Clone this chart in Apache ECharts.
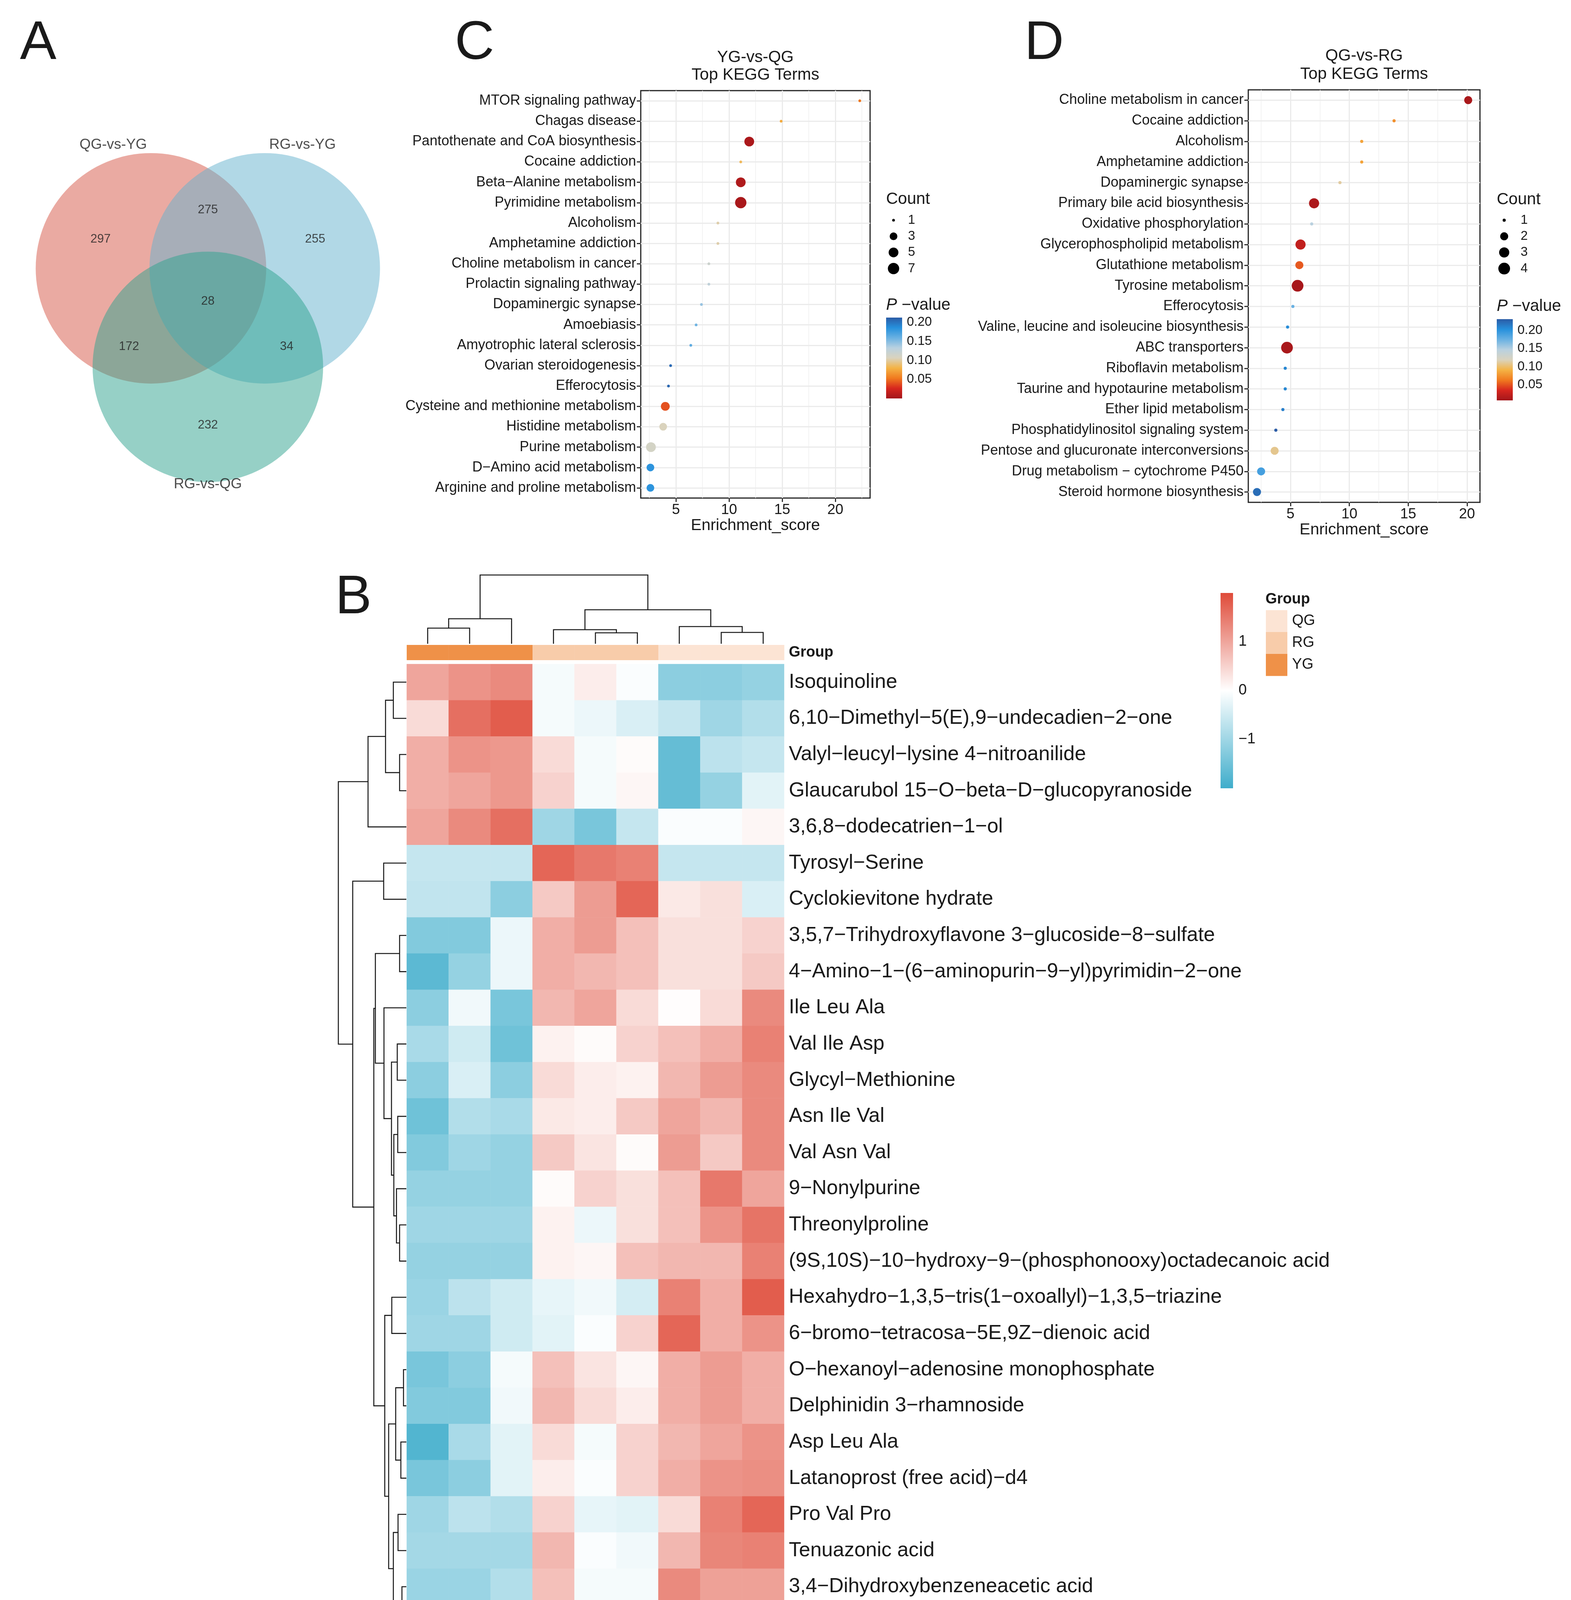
<!DOCTYPE html>
<html><head><meta charset="utf-8">
<script src="https://cdn.jsdelivr.net/npm/echarts@6/dist/echarts.min.js"></script>
<style>html,body{margin:0;padding:0;background:#fff}#c{width:4021px;height:4359px}</style>
</head><body><div id="c"></div>
<script>
// ---------------- DATA ----------------
const vennSets = ['QG-vs-YG', 'RG-vs-YG', 'RG-vs-QG'];
const vennOnly = [297, 255, 232];
const vennPairs = [275, 172, 34];      // (0&1), (0&2), (1&2)
const vennAll = 28;

const cTerms = ['MTOR signaling pathway','Chagas disease','Pantothenate and CoA biosynthesis','Cocaine addiction','Beta\u2212Alanine metabolism','Pyrimidine metabolism','Alcoholism','Amphetamine addiction','Choline metabolism in cancer','Prolactin signaling pathway','Dopaminergic synapse','Amoebiasis','Amyotrophic lateral sclerosis','Ovarian steroidogenesis','Efferocytosis','Cysteine and methionine metabolism','Histidine metabolism','Purine metabolism','D\u2212Amino acid metabolism','Arginine and proline metabolism'];
const cScore = [22.3, 14.9, 11.9, 11.1, 11.1, 11.1, 8.95, 8.95, 8.1, 8.1, 7.4, 6.9, 6.4, 4.5, 4.3, 4.0, 3.8, 2.65, 2.6, 2.6];
const cCount = [1, 1, 5, 1, 5, 7, 1, 1, 1, 1, 1, 1, 1, 1, 1, 4, 3, 5, 3, 3];
const cP = [0.052, 0.076, 0.004, 0.085, 0.006, 0.003, 0.102, 0.102, 0.118, 0.127, 0.144, 0.157, 0.163, 0.205, 0.207, 0.040, 0.106, 0.112, 0.183, 0.183];
const cCountBreaks = [1, 3, 5, 7];
const cPRange = [0.0, 0.2124];

const dTerms = ['Choline metabolism in cancer','Cocaine addiction','Alcoholism','Amphetamine addiction','Dopaminergic synapse','Primary bile acid biosynthesis','Oxidative phosphorylation','Glycerophospholipid metabolism','Glutathione metabolism','Tyrosine metabolism','Efferocytosis','Valine, leucine and isoleucine biosynthesis','ABC transporters','Riboflavin metabolism','Taurine and hypotaurine metabolism','Ether lipid metabolism','Phosphatidylinositol signaling system','Pentose and glucuronate interconversions','Drug metabolism \u2212 cytochrome P450','Steroid hormone biosynthesis'];
const dScore = [20.1, 13.8, 11.05, 11.05, 9.2, 7.0, 6.8, 5.85, 5.75, 5.6, 5.2, 4.75, 4.7, 4.55, 4.55, 4.35, 3.75, 3.65, 2.5, 2.15];
const dCount = [2, 1, 1, 1, 1, 3, 1, 3, 2, 4, 1, 1, 4, 1, 1, 1, 1, 2, 2, 2];
const dP = [0.010, 0.074, 0.083, 0.083, 0.112, 0.012, 0.146, 0.023, 0.052, 0.009, 0.175, 0.205, 0.010, 0.208, 0.208, 0.212, 0.231, 0.108, 0.190, 0.222];
const dCountBreaks = [1, 2, 3, 4];
const dPRange = [0.007, 0.231];

const pTicks = [0.05, 0.10, 0.15, 0.20];
const scoreTicks = [5, 10, 15, 20];
const scoreMinor = [2.5, 7.5, 12.5, 17.5, 22.5];

const hmRows = ['Isoquinoline','6,10\u2212Dimethyl\u22125(E),9\u2212undecadien\u22122\u2212one','Valyl\u2212leucyl\u2212lysine 4\u2212nitroanilide','Glaucarubol 15\u2212O\u2212beta\u2212D\u2212glucopyranoside','3,6,8\u2212dodecatrien\u22121\u2212ol','Tyrosyl\u2212Serine','Cyclokievitone hydrate','3,5,7\u2212Trihydroxyflavone 3\u2212glucoside\u22128\u2212sulfate','4\u2212Amino\u22121\u2212(6\u2212aminopurin\u22129\u2212yl)pyrimidin\u22122\u2212one','Ile Leu Ala','Val Ile Asp','Glycyl\u2212Methionine','Asn Ile Val','Val Asn Val','9\u2212Nonylpurine','Threonylproline','(9S,10S)\u221210\u2212hydroxy\u22129\u2212(phosphonooxy)octadecanoic acid','Hexahydro\u22121,3,5\u2212tris(1\u2212oxoallyl)\u22121,3,5\u2212triazine','6\u2212bromo\u2212tetracosa\u22125E,9Z\u2212dienoic acid','O\u2212hexanoyl\u2212adenosine monophosphate','Delphinidin 3\u2212rhamnoside','Asp Leu Ala','Latanoprost (free acid)\u2212d4','Pro Val Pro','Tenuazonic acid','3,4\u2212Dihydroxybenzeneacetic acid','Tyrosyl\u2212Leucine'];
const hmCols = ['YG3','YG1','YG2','RG3','RG2','RG1','QG2','QG3','QG1'];
const hmColGroup = ['YG','YG','YG','RG','RG','RG','QG','QG','QG'];
const hmValues = [
 [1.0, 1.2, 1.3, -0.1, 0.2, -0.05, -1.2, -1.2, -1.1],
 [0.4, 1.6, 1.8, -0.1, -0.2, -0.4, -0.6, -1.0, -0.8],
 [0.9, 1.2, 1.15, 0.4, -0.1, 0.05, -1.6, -0.7, -0.6],
 [0.9, 1.0, 1.15, 0.5, -0.1, 0.1, -1.6, -1.1, -0.3],
 [1.0, 1.3, 1.6, -1.0, -1.4, -0.6, -0.05, -0.05, 0.1],
 [-0.6, -0.6, -0.6, 1.7, 1.5, 1.4, -0.6, -0.6, -0.6],
 [-0.65, -0.65, -1.2, 0.6, 1.1, 1.7, 0.25, 0.35, -0.4],
 [-1.3, -1.3, -0.2, 0.9, 1.1, 0.7, 0.35, 0.35, 0.5],
 [-1.7, -1.1, -0.2, 0.9, 0.8, 0.7, 0.35, 0.35, 0.6],
 [-1.2, -0.15, -1.4, 0.8, 1.0, 0.4, 0.02, 0.4, 1.3],
 [-0.9, -0.5, -1.5, 0.15, 0.05, 0.5, 0.7, 0.9, 1.4],
 [-1.2, -0.4, -1.2, 0.4, 0.2, 0.15, 0.8, 1.1, 1.3],
 [-1.5, -0.8, -0.9, 0.25, 0.2, 0.6, 1.0, 0.8, 1.3],
 [-1.3, -1.0, -1.1, 0.6, 0.3, 0.05, 1.1, 0.6, 1.3],
 [-1.1, -1.1, -1.1, 0.05, 0.5, 0.35, 0.7, 1.5, 1.0],
 [-1.0, -1.0, -1.0, 0.15, -0.2, 0.35, 0.7, 1.2, 1.55],
 [-1.1, -1.1, -1.1, 0.15, 0.1, 0.7, 0.8, 0.8, 1.4],
 [-1.05, -0.7, -0.5, -0.25, -0.15, -0.45, 1.4, 0.9, 1.8],
 [-1.0, -1.0, -0.5, -0.3, -0.05, 0.5, 1.7, 0.9, 1.2],
 [-1.4, -1.2, -0.1, 0.7, 0.3, 0.1, 0.9, 1.1, 0.9],
 [-1.3, -1.3, -0.15, 0.8, 0.4, 0.2, 0.9, 1.1, 0.9],
 [-1.8, -0.9, -0.3, 0.4, -0.1, 0.5, 0.8, 1.0, 1.2],
 [-1.4, -1.2, -0.3, 0.2, -0.05, 0.5, 0.9, 1.2, 1.25],
 [-1.0, -0.7, -0.8, 0.5, -0.25, -0.3, 0.4, 1.4, 1.7],
 [-0.95, -0.95, -0.95, 0.8, -0.05, -0.15, 0.8, 1.35, 1.4],
 [-1.05, -1.05, -0.8, 0.7, -0.1, -0.1, 1.3, 1.05, 1.05],
 [-1.1, -0.95, -0.7, 0.35, -0.1, 0.05, 1.2, 1.35, 0.95]
];
const hmRange = [-2, 2];
const hmTicks = [-1, 0, 1];
const groupNames = ['QG', 'RG', 'YG'];
// dendrograms: [left, right, height]; leaves are row/column indices
const rowTree = [
  [[[0, 1, 0.83], [2, 3, 0.43], 1.33], 4, 2.45],
  [[5, 6, 1.45],
   [[[7, 8, 0.43], [9, [[10, 11, 0.58], [[12, 13, 0.55], [14, [15, 16, 0.43], 0.63], 0.8], 0.95], 1.43], 1.98],
    [[17, 18, 0.93], [[[19, 20, 0.18], [21, 22, 0.35], 0.68], [[23, 24, 0.53], [25, 26, 0.28], 0.83], 1.13], 1.38], 2.08],
   3.43],
  4.35];
const colTree = [[[0, 1, 1.0], 2, 1.6], [[3, [4, 5, 0.7], 0.9], [6, [7, 8, 0.725], 1.1], 2.175], 4.4];

// ---------------- STYLE / LAYOUT ----------------
const FONT = '"Liberation Sans", Arial, Helvetica, sans-serif';
const TXT = '#1a1a1a';
const palP = ['#A3161B','#D7261E','#F07A1F','#F4B345','#DAD3BE','#B9D1E0','#69B1E2','#2690DC','#2B5CA6'];
const palHM = ['#3FADCB', '#FFFFFF', '#DF4B39'];
const groupColor = {QG: '#FCE4D4', RG: '#F8CCAA', YG: '#EF9148'};
const vennFill = ['rgba(213,85,69,0.5)', 'rgba(99,177,205,0.5)', 'rgba(45,161,141,0.5)'];
const vennAngle = [150, 30, 270], vennDist = 0.57;
const vennCatDeg = [-17, 17, 180], vennCatDist = [1.12, 1.12, 1.02];

function sizeFn(counts, dmin, dmax) {
  const lo = Math.min(...counts), hi = Math.max(...counts);
  return c => dmin + (dmax - dmin) * Math.sqrt((c - lo) / (hi - lo));
}
const sizeC = sizeFn(cCount, 7, 29);
const sizeD = sizeFn(dCount, 8, 30);

function treeMerges(tree) {
  const out = [];
  (function walk(n) {
    if (typeof n === 'number') return {pos: n, h: 0};
    const a = walk(n[0]), b = walk(n[1]);
    out.push([n[2], a.pos, b.pos, a.h, b.h]);
    return {pos: (a.pos + b.pos) / 2, h: n[2]};
  })(tree);
  return out;
}

const grids = [], xAxes = [], yAxes = [], series = [], visualMaps = [], graphics = [];
function addGrid(g, xa, ya) {
  grids.push(g); const i = grids.length - 1;
  xAxes.push(Object.assign({gridIndex: i}, xa));
  yAxes.push(Object.assign({gridIndex: i}, ya));
  return i;
}
const hidden = {show: false};
function hiddenVal(min, max, extra) { return Object.assign({type: 'value', min, max, show: false}, extra || {}); }
function text(x, y, t, size, opt) {
  opt = opt || {};
  graphics.push({type: 'text', x, y, z: 10, style: Object.assign({
    text: t, fontSize: size, fontFamily: FONT, fill: opt.fill || TXT, fontWeight: opt.weight || 'normal',
    textAlign: opt.align || 'left', textVerticalAlign: 'middle', align: opt.align || 'left', verticalAlign: 'middle'
  }, opt.rich ? {rich: opt.rich} : {})});
}
function colorbarRender(pal) {
  return function (params, api) {
    const cs = params.coordSys;
    const stops = pal.map((c, i) => ({offset: i / (pal.length - 1), color: c}));
    return {type: 'rect', shape: {x: cs.x, y: cs.y, width: cs.width, height: cs.height},
      style: {fill: new echarts.graphic.LinearGradient(0, 1, 0, 0, stops)}};
  };
}

// ---------- Panel A : Venn ----------
const gV = addGrid({left: 1, top: 240, width: 1062, height: 1062}, hiddenVal(-1.8, 1.8), hiddenVal(-1.8, 1.8));
const rad = d => d * Math.PI / 180;
const vennCenters = vennAngle.map(a => [vennDist * Math.cos(rad(a)), vennDist * Math.sin(rad(a))]);
series.push({type: 'custom', xAxisIndex: gV, yAxisIndex: gV, silent: true, z: 1,
  data: vennCenters.map((c, i) => [c[0], c[1], i]),
  renderItem: (params, api) => {
    const c = api.coord([api.value(0), api.value(1)]);
    const r = api.size([1, 1])[0];
    return {type: 'circle', shape: {cx: c[0], cy: c[1], r}, style: {fill: vennFill[api.value(2)], stroke: null}};
  }});
const unit = a => [Math.cos(rad(a)), Math.sin(rad(a))];
const regionData = [];
vennOnly.forEach((n, i) => { const u = unit(vennAngle[i]); regionData.push({value: [1.075 * u[0], 1.075 * u[1]], name: String(n)}); });
[[0, 1, 2], [0, 2, 1], [1, 2, 0]].forEach((p, j) => { const u = unit(vennAngle[p[2]]); regionData.push({value: [-0.79 * u[0], -0.79 * u[1]], name: String(vennPairs[j])}); });
regionData.push({value: [0, 0], name: String(vennAll)});
series.push({type: 'scatter', xAxisIndex: gV, yAxisIndex: gV, silent: true, z: 3, symbolSize: 1,
  itemStyle: {color: 'rgba(0,0,0,0)'}, data: regionData,
  label: {show: true, position: 'inside', formatter: p => p.name, fontSize: 31, fontFamily: FONT, color: '#222'}});
series.push({type: 'scatter', xAxisIndex: gV, yAxisIndex: gV, silent: true, z: 3, symbolSize: 1,
  itemStyle: {color: 'rgba(0,0,0,0)'},
  data: vennSets.map((s, i) => ({name: s, value: [vennCenters[i][0] + vennCatDist[i] * Math.sin(rad(vennCatDeg[i])), vennCenters[i][1] + vennCatDist[i] * Math.cos(rad(vennCatDeg[i]))]})),
  label: {show: true, position: 'inside', formatter: p => p.name, fontSize: 37, fontFamily: FONT, color: '#222'}});

// ---------- Dot plots C and D ----------
function dotPanel(cfg) {
  const g = addGrid({left: cfg.left, top: cfg.top, width: cfg.width, height: cfg.height, show: true,
      borderColor: '#222', borderWidth: 3, backgroundColor: 'rgba(0,0,0,0)'},
    {type: 'value', min: cfg.xmin, max: cfg.xmax,
     axisLine: hidden,
     splitLine: {show: true, lineStyle: {color: '#EBEBEB', width: 3}},
     axisTick: {show: true, length: 10, customValues: scoreTicks, lineStyle: {color: '#333', width: 3}},
     axisLabel: {customValues: scoreTicks, fontSize: 37, fontFamily: FONT, color: TXT, margin: 12,
       formatter: v => (Math.abs(v / 5 - Math.round(v / 5)) < 1e-9 ? String(v) : '')},
     name: 'Enrichment_score', nameLocation: 'middle', nameGap: 50,
     nameTextStyle: {fontSize: 41, fontFamily: FONT, color: TXT}},
    {type: 'category', data: cfg.terms, inverse: true,
     axisLine: hidden, splitLine: hidden,
     axisTick: {show: true, alignWithLabel: true, length: 10, lineStyle: {color: '#333', width: 3}},
     axisLabel: {interval: 0, fontSize: 36, fontFamily: FONT, color: TXT, margin: 12}});
  series.push({type: 'scatter', xAxisIndex: g, yAxisIndex: g, silent: true, z: 1, symbolSize: 0,
    data: [[cfg.score[0], 0]],
    markLine: {silent: true, z: 1, symbol: ['none', 'none'], label: {show: false}, animation: false,
      lineStyle: {color: '#EBEBEB', width: 3, type: 'solid'},
      data: scoreMinor.filter(v => v > cfg.xmin && v < cfg.xmax).map(v => ({xAxis: v, lineStyle: {width: 1.5, color: '#EFEFEF', type: 'solid'}}))
        .concat(cfg.terms.map(t => ({yAxis: t})))}});
  series.push({type: 'scatter', xAxisIndex: g, yAxisIndex: g, z: 3, silent: true,
    data: cfg.terms.map((t, i) => [cfg.score[i], i, cfg.count[i], cfg.p[i]]),
    symbol: 'circle', symbolSize: v => cfg.size(v[2]), itemStyle: {opacity: 1}});
  visualMaps.push({type: 'continuous', show: false, seriesIndex: series.length - 1, dimension: 3,
    min: cfg.pRange[0], max: cfg.pRange[1], inRange: {color: palP}});
  // title
  const cx = cfg.left + cfg.width / 2;
  text(cx, cfg.titleY[0], cfg.title, 42, {align: 'center'});
  text(cx, cfg.titleY[1], 'Top KEGG Terms', 42, {align: 'center'});
  // count legend
  text(cfg.legX, cfg.countTitleY, 'Count', 42);
  const gl = addGrid({left: cfg.legX + 1, top: cfg.countTop, width: 36, height: cfg.breaks.length * 41.3},
    hiddenVal(0, 1),
    {type: 'category', data: cfg.breaks.map(String), inverse: true, position: 'right',
     axisLine: hidden, axisTick: hidden, splitLine: hidden,
     axisLabel: {interval: 0, fontSize: 33, fontFamily: FONT, color: TXT, margin: cfg.countMargin}});
  series.push({type: 'scatter', xAxisIndex: gl, yAxisIndex: gl, silent: true, z: 3,
    data: cfg.breaks.map((b, i) => [0.5, i, b]), symbolSize: v => cfg.size(v[2]),
    itemStyle: {color: '#000', opacity: 1}});
  // p legend
  text(cfg.legX, cfg.pTitleY, '{i|P}{n| \u2212value}', 42, {rich: {
    i: {fontSize: 42, fontFamily: FONT, fontStyle: 'italic', fill: TXT, color: TXT},
    n: {fontSize: 42, fontFamily: FONT, fill: TXT, color: TXT}}});
  const gc = addGrid({left: cfg.legX, top: cfg.barTop, width: 41, height: cfg.barH},
    hiddenVal(0, 1),
    {type: 'value', min: cfg.pRange[0], max: cfg.pRange[1], position: 'right',
     axisLine: hidden, splitLine: hidden,
     axisTick: {show: true, inside: true, length: 8, customValues: pTicks, lineStyle: {color: '#fff', width: 2}},
     axisLabel: {customValues: pTicks, fontSize: 33, fontFamily: FONT, color: TXT, margin: 12,
       formatter: v => { const k = Math.round(v * 20); return (Math.abs(v * 20 - k) < 1e-6 && k > 0) ? (k / 20).toFixed(2) : ''; }}});
  series.push({type: 'custom', xAxisIndex: gc, yAxisIndex: gc, silent: true, z: 1,
    data: [[0.5, cfg.pRange[0]]], renderItem: colorbarRender(palP)});
}
dotPanel({left: 1640, top: 232, width: 587, height: 1043, xmin: 1.69, xmax: 23.27,
  terms: cTerms, score: cScore, count: cCount, p: cP, size: sizeC, pRange: cPRange, breaks: cCountBreaks,
  title: 'YG-vs-QG', titleY: [147, 192], legX: 2268, countTitleY: 510, countTop: 543, countMargin: 19,
  pTitleY: 781, barTop: 813, barH: 207});
dotPanel({left: 3195, top: 230, width: 593, height: 1056, xmin: 1.41, xmax: 21.1,
  terms: dTerms, score: dScore, count: dCount, p: dP, size: sizeD, pRange: dPRange, breaks: dCountBreaks,
  title: 'QG-vs-RG', titleY: [143, 190], legX: 3831, countTitleY: 511, countTop: 543, countMargin: 24,
  pTitleY: 784, barTop: 817, barH: 208});

// ---------- Panel B : heatmap ----------
const HM = {left: 1041, top: 1700, width: 966, height: 2501};
const gH = addGrid({left: HM.left, top: HM.top, width: HM.width, height: HM.height},
  {type: 'category', data: hmCols, axisLine: hidden, axisTick: hidden, splitLine: hidden,
   axisLabel: {interval: 0, rotate: -90, fontSize: 53, fontFamily: FONT, color: TXT, margin: 14}},
  {type: 'category', data: hmRows, inverse: true, position: 'right', axisLine: hidden, axisTick: hidden, splitLine: hidden,
   axisLabel: {interval: 0, fontSize: 52, fontFamily: FONT, color: TXT, margin: 12}});
const hmData = [];
hmValues.forEach((row, r) => row.forEach((v, c) => hmData.push([c, r, v])));
series.push({type: 'heatmap', xAxisIndex: gH, yAxisIndex: gH, data: hmData, silent: true, itemStyle: {borderWidth: 0}});
visualMaps.push({type: 'continuous', show: false, seriesIndex: series.length - 1, dimension: 2,
  min: hmRange[0], max: hmRange[1], inRange: {color: palHM}});

// annotation bar
const gA = addGrid({left: HM.left, top: 1651, width: HM.width, height: 39},
  {type: 'category', data: hmCols, show: false},
  {type: 'category', data: ['Group'], position: 'right', axisLine: hidden, axisTick: hidden, splitLine: hidden,
   axisLabel: {interval: 0, fontSize: 38, fontWeight: 'bold', fontFamily: FONT, color: TXT, margin: 12}});
series.push({type: 'custom', xAxisIndex: gA, yAxisIndex: gA, silent: true,
  data: hmCols.map((c, i) => [i, 0, groupNames.indexOf(hmColGroup[i])]),
  renderItem: (params, api) => {
    const cs = params.coordSys; const c = api.coord([api.value(0), 0]); const w = api.size([1, 0])[0];
    return {type: 'rect', shape: {x: c[0] - w / 2, y: cs.y, width: w + 0.5, height: cs.height},
      style: {fill: groupColor[groupNames[api.value(2)]]}};
  }});

// row dendrogram
const gR = addGrid({left: 862, top: HM.top, width: 178, height: HM.height},
  hiddenVal(0, 4.45, {inverse: true}), hiddenVal(-0.5, hmRows.length - 0.5, {inverse: true}));
series.push({type: 'custom', xAxisIndex: gR, yAxisIndex: gR, silent: true, z: 2,
  data: treeMerges(rowTree),
  renderItem: (params, api) => {
    const h = api.value(0), pa = api.value(1), pb = api.value(2), ha = api.value(3), hb = api.value(4);
    const pts = [[ha, pa], [h, pa], [h, pb], [hb, pb]].map(p => api.coord(p));
    return {type: 'polyline', shape: {points: pts}, style: {stroke: '#1a1a1a', lineWidth: 2.6, fill: null}};
  }});
// column dendrogram
const gT = addGrid({left: HM.left, top: 1472, width: HM.width, height: 176},
  hiddenVal(-0.5, hmCols.length - 0.5), hiddenVal(0, 4.4));
series.push({type: 'custom', xAxisIndex: gT, yAxisIndex: gT, silent: true, z: 2,
  data: treeMerges(colTree),
  renderItem: (params, api) => {
    const h = api.value(0), pa = api.value(1), pb = api.value(2), ha = api.value(3), hb = api.value(4);
    const pts = [[pa, ha], [pa, h], [pb, h], [pb, hb]].map(p => api.coord(p));
    return {type: 'polyline', shape: {points: pts}, style: {stroke: '#1a1a1a', lineWidth: 2.6, fill: null}};
  }});

// heatmap colour bar
const gHC = addGrid({left: 3124, top: 1518, width: 32, height: 500},
  hiddenVal(0, 1),
  {type: 'value', min: hmRange[0], max: hmRange[1], position: 'right', axisLine: hidden, axisTick: hidden, splitLine: hidden,
   axisLabel: {customValues: hmTicks, fontSize: 38, fontFamily: FONT, color: TXT, margin: 14,
     formatter: v => (Number.isInteger(v) && Math.abs(v) <= 1 ? String(v).replace('-', '\u2212') : '')}});
series.push({type: 'custom', xAxisIndex: gHC, yAxisIndex: gHC, silent: true,
  data: [[0.5, 0]], renderItem: colorbarRender(palHM)});

// group legend
text(3239, 1535, 'Group', 38, {weight: 'bold'});
const gG = addGrid({left: 3240, top: 1562, width: 55, height: 168},
  hiddenVal(0, 1),
  {type: 'category', data: groupNames, inverse: true, position: 'right', axisLine: hidden, axisTick: hidden, splitLine: hidden,
   axisLabel: {interval: 0, fontSize: 38, fontFamily: FONT, color: TXT, margin: 12}});
series.push({type: 'custom', xAxisIndex: gG, yAxisIndex: gG, silent: true,
  data: groupNames.map((g, i) => [0.5, i]),
  renderItem: (params, api) => {
    const cs = params.coordSys; const c = api.coord([0.5, api.value(1)]); const h = api.size([0, 1])[1];
    return {type: 'rect', shape: {x: cs.x, y: c[1] - h / 2, width: cs.width, height: h + 0.5},
      style: {fill: groupColor[groupNames[api.value(1)]]}};
  }});

// panel letters
text(51, 112, 'A', 140);
text(858, 1531, 'B', 140);
text(1164, 112, 'C', 140);
text(2622, 112, 'D', 140);

const chart = echarts.init(document.getElementById('c'), null, {renderer: 'canvas', width: 4021, height: 4359});
chart.setOption({
  animation: false,
  backgroundColor: '#ffffff',
  textStyle: {fontFamily: FONT},
  grid: grids, xAxis: xAxes, yAxis: yAxes,
  visualMap: visualMaps,
  series: series,
  graphic: {elements: graphics}
});
</script>
</body></html>
